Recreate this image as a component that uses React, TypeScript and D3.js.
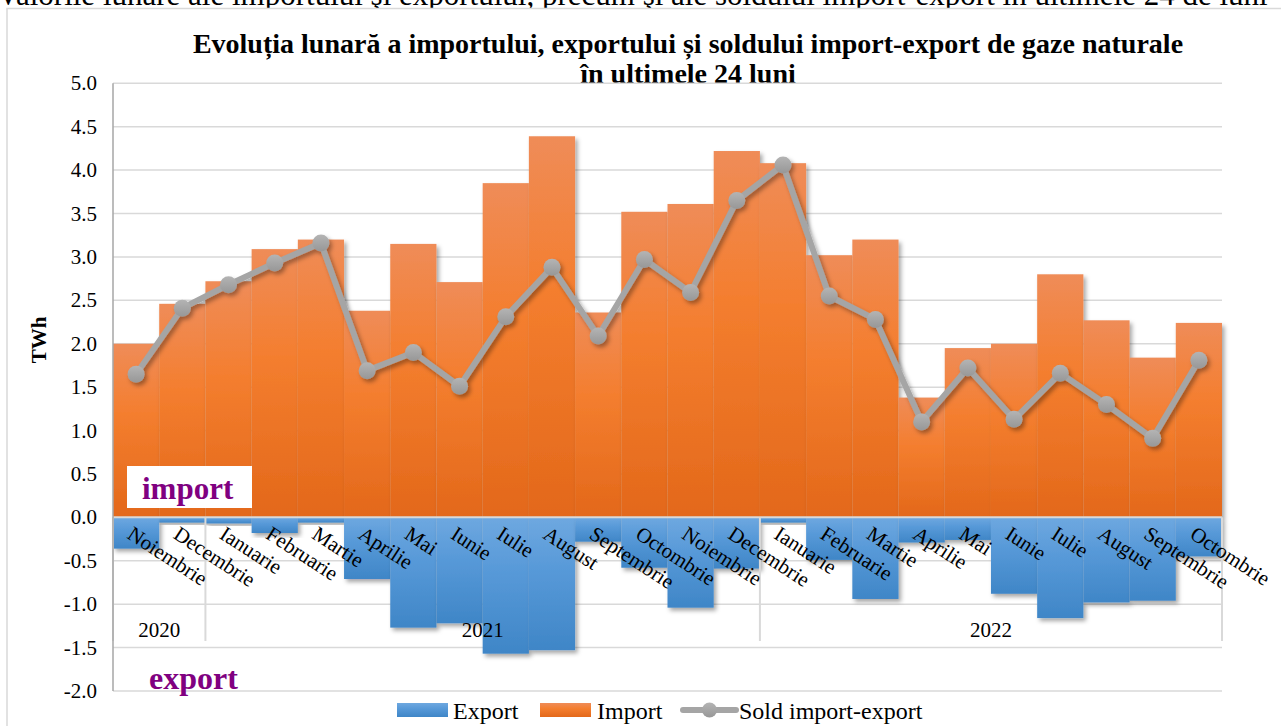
import React from "react";
import * as d3 from "d3";

const months = [
  "Noiembrie", "Decembrie",
  "Ianuarie", "Februarie", "Martie", "Aprilie", "Mai", "Iunie", "Iulie", "August", "Septembrie", "Octombrie", "Noiembrie", "Decembrie",
  "Ianuarie", "Februarie", "Martie", "Aprilie", "Mai", "Iunie", "Iulie", "August", "Septembrie", "Octombrie",
];
const years = [
  { label: "2020", from: 0, to: 1 },
  { label: "2021", from: 2, to: 13 },
  { label: "2022", from: 14, to: 23 },
];
const importVals = [2.0, 2.46, 2.72, 3.09, 3.2, 2.38, 3.15, 2.71, 3.85, 4.39, 2.36, 3.52, 3.61, 4.22, 4.08, 3.02, 3.2, 1.38, 1.95, 2.0, 2.8, 2.27, 1.84, 2.24];
const exportVals = [-0.36, -0.06, -0.07, -0.18, -0.06, -0.71, -1.27, -1.22, -1.57, -1.53, -0.28, -0.58, -1.04, -0.59, -0.06, -0.49, -0.94, -0.29, -0.26, -0.88, -1.16, -0.98, -0.96, -0.45];
const soldVals = [1.65, 2.41, 2.68, 2.93, 3.16, 1.69, 1.9, 1.51, 2.31, 2.88, 2.09, 2.97, 2.59, 3.65, 4.06, 2.55, 2.28, 1.1, 1.72, 1.13, 1.66, 1.3, 0.91, 1.81];
const yTicks = [5.0, 4.5, 4.0, 3.5, 3.0, 2.5, 2.0, 1.5, 1.0, 0.5, 0.0, -0.5, -1.0, -1.5, -2.0];

const serif = "'Liberation Serif', 'Times New Roman', serif";

export default function App() {
  const left = 113;
  const right = 1222;
  const top = 83.3;
  const bottom = 691;

  const x = d3.scaleBand<number>().domain(d3.range(months.length)).range([left, right]).padding(0);
  const y = d3.scaleLinear().domain([-2, 5]).range([bottom, top]);
  const bw = x.bandwidth();
  const cx = (i: number) => (x(i) as number) + bw / 2;

  const line = d3.line<number>().x((_, i) => cx(i)).y(d => y(d));

  return (
    <svg width={1281} height={726} style={{ position: "absolute", left: 0, top: 0, background: "#fff" }} fontFamily={serif}>
      <defs>
        <linearGradient id="gImp" x1="0" y1="0" x2="0" y2="1">
          <stop offset="0" stopColor="#ef8c58" />
          <stop offset="0.4" stopColor="#f47e2f" />
          <stop offset="1" stopColor="#e3681a" />
        </linearGradient>
        <linearGradient id="gExp" x1="0" y1="0" x2="0" y2="1">
          <stop offset="0" stopColor="#6ea8e0" />
          <stop offset="0.4" stopColor="#5799d8" />
          <stop offset="1" stopColor="#3f86c7" />
        </linearGradient>
        <linearGradient id="gDot" x1="0" y1="0" x2="0" y2="1">
          <stop offset="0" stopColor="#b4b4b4" />
          <stop offset="1" stopColor="#979797" />
        </linearGradient>
        <filter id="shadow" x="-20%" y="-20%" width="150%" height="150%">
          <feDropShadow dx="2.5" dy="3" stdDeviation="2" floodColor="#000" floodOpacity="0.35" />
        </filter>
      </defs>

      {/* paragraph text above the chart, cut by the page top */}
      <text x={-3} y={5} fontSize={31} fill="#000">
        Valorile lunare ale importului şi exportului, precum şi ale soldului import-export în ultimele 24 de luni
      </text>

      {/* chart frame */}
      <rect x={7} y={8.5} width={1290} height={730} fill="#fff" stroke="#d9d9d9" strokeWidth={1.5} />

      {/* title */}
      <text x={688} y={53} textAnchor="middle" fontSize={28} fontWeight="bold">
        Evoluția lunară a importului, exportului și soldului import-export de gaze naturale
      </text>
      <text x={688} y={83} textAnchor="middle" fontSize={28} fontWeight="bold">
        în ultimele 24 luni
      </text>

      {/* gridlines */}
      {yTicks.map(t => (
        <line key={"g" + t} x1={left} x2={right} y1={y(t)} y2={y(t)} stroke="#d9d9d9" strokeWidth={1.5} />
      ))}

      {/* y tick labels */}
      {yTicks.map(t => (
        <text key={"t" + t} x={97} y={y(t) + 7} textAnchor="end" fontSize={21}>
          {t.toFixed(1)}
        </text>
      ))}
      <text transform={`translate(46,340) rotate(-90)`} textAnchor="middle" fontSize={21} fontWeight="bold">
        TWh
      </text>

      {/* import bars */}
      {importVals.map((v, i) => (
        <rect key={"i" + i} x={x(i)} y={y(v)} width={bw} height={y(0) - y(v)} fill="url(#gImp)" filter="url(#shadow)" />
      ))}

      {/* export bars */}
      {exportVals.map((v, i) => (
        <rect key={"e" + i} x={x(i)} y={y(0)} width={bw} height={y(v) - y(0)} fill="url(#gExp)" filter="url(#shadow)" />
      ))}

      {/* category axis */}
      <line x1={left} x2={right} y1={y(0)} y2={y(0)} stroke="#d9d9d9" strokeWidth={2} />
      {[0, 2, 14, 24].map(k => {
        const xx = k === 24 ? right : (x(k) as number);
        return <line key={"s" + k} x1={xx} x2={xx} y1={y(0)} y2={641} stroke="#d9d9d9" strokeWidth={2} />;
      })}
      {years.map(yr => (
        <text key={yr.label} x={((x(yr.from) as number) + (x(yr.to) as number) + bw) / 2} y={637} textAnchor="middle" fontSize={21}>
          {yr.label}
        </text>
      ))}
      {months.map((m, i) => (
        <text key={"m" + i} transform={`translate(${cx(i) - 1},${y(0) + 6}) rotate(33)`} dy="0.8em" fontSize={21}>
          {m}
        </text>
      ))}

      {/* left axis */}
      <line x1={left} x2={left} y1={top} y2={bottom} stroke="#a6a6a6" strokeWidth={1.5} />

      {/* sold line */}
      <g filter="url(#shadow)">
        <path d={line(soldVals) || ""} fill="none" stroke="#a5a5a5" strokeWidth={6} strokeLinejoin="round" />
        {soldVals.map((v, i) => (
          <circle key={"c" + i} cx={cx(i)} cy={y(v)} r={8.5} fill="url(#gDot)" />
        ))}
      </g>

      {/* annotations */}
      <rect x={127} y={466} width={125} height={42} fill="#fff" />
      <text x={142} y={499} fontSize={31} fontWeight="bold" fill="#800080">import</text>
      <text x={149} y={689} fontSize={32} fontWeight="bold" fill="#800080">export</text>

      {/* legend */}
      <rect x={397} y={703} width={51} height={14} fill="url(#gExp)" />
      <text x={453} y={719} fontSize={24}>Export</text>
      <rect x={540} y={703} width={51} height={14} fill="url(#gImp)" />
      <text x={597} y={719} fontSize={24}>Import</text>
      <line x1={683} x2={736} y1={710} y2={710} stroke="#a5a5a5" strokeWidth={6} strokeLinecap="round" />
      <circle cx={709.5} cy={710} r={7.5} fill="url(#gDot)" />
      <text x={739} y={719} fontSize={24}>Sold import-export</text>
    </svg>
  );
}
